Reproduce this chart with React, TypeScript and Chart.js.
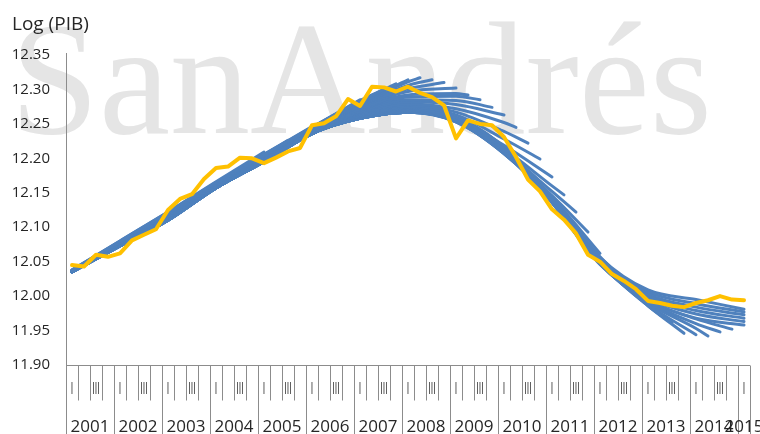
import { useEffect, useRef } from "react";
import { Chart, registerables } from "chart.js";

Chart.register(...registerables);

// Years and quarter labels of the category axis (2001Q1 .. 2015Q1)
const anios = [2001, 2002, 2003, 2004, 2005, 2006, 2007, 2008, 2009, 2010, 2011, 2012, 2013, 2014, 2015];
const trimestres = ["I", "II", "III", "IV"];

// Y axis range
const ejeYMin = 11.9;
const ejeYMax = 12.35;
const ejeYPaso = 0.05;

// Quarterly log of GDP, 2001Q1 .. 2015Q1
const logPib = [
  12.045, 12.043, 12.060, 12.057,
  12.062, 12.081, 12.089, 12.097,
  12.125, 12.141, 12.148, 12.170,
  12.186, 12.188, 12.201, 12.200,
  12.193, 12.201, 12.210, 12.215,
  12.248, 12.251, 12.261, 12.286,
  12.276, 12.304, 12.303, 12.297,
  12.304, 12.295, 12.289, 12.277,
  12.229, 12.255, 12.250, 12.248,
  12.231, 12.202, 12.169, 12.152,
  12.126, 12.111, 12.091, 12.060,
  12.050, 12.032, 12.022, 12.010,
  11.993, 11.990, 11.986, 11.984,
  11.990, 11.994, 12.000, 11.995,
  11.994,
];

// Recursive trend estimates: quarter index where each one ends
const finTendencia = [
  16, 18, 20, 22, 24, 26, 27, 28, 29, 30, 31, 32, 33, 34, 35, 36, 37, 38, 39, 40,
  41, 42, 43, 44, 45, 46, 47, 48, 49, 50, 51, 52, 53, 54, 55, 56, 56, 56, 56, 56, 56,
];

// Trend values at quarters 0, 4, 8, ... and at the final quarter of each estimate
const tendencias = [
  [12.038, 12.080, 12.122, 12.166, 12.209],
  [12.038, 12.080, 12.122, 12.165, 12.206, 12.226],
  [12.038, 12.079, 12.121, 12.164, 12.205, 12.246],
  [12.037, 12.079, 12.121, 12.164, 12.205, 12.245, 12.264],
  [12.037, 12.079, 12.120, 12.163, 12.204, 12.245, 12.285],
  [12.037, 12.078, 12.120, 12.163, 12.204, 12.244, 12.284, 12.300],
  [12.037, 12.078, 12.120, 12.162, 12.203, 12.244, 12.283, 12.308],
  [12.037, 12.078, 12.119, 12.162, 12.203, 12.243, 12.281, 12.314],
  [12.037, 12.078, 12.119, 12.161, 12.202, 12.243, 12.280, 12.311, 12.317],
  [12.037, 12.078, 12.118, 12.161, 12.202, 12.242, 12.279, 12.306, 12.314],
  [12.037, 12.077, 12.118, 12.160, 12.201, 12.241, 12.277, 12.301, 12.310],
  [12.037, 12.077, 12.118, 12.160, 12.200, 12.240, 12.275, 12.297, 12.302],
  [12.037, 12.077, 12.117, 12.159, 12.199, 12.239, 12.272, 12.292, 12.294, 12.292],
  [12.037, 12.077, 12.117, 12.159, 12.199, 12.238, 12.270, 12.289, 12.290, 12.285],
  [12.036, 12.076, 12.116, 12.159, 12.198, 12.238, 12.268, 12.285, 12.284, 12.274],
  [12.036, 12.076, 12.116, 12.158, 12.198, 12.237, 12.267, 12.282, 12.278, 12.263],
  [12.036, 12.076, 12.115, 12.158, 12.198, 12.237, 12.266, 12.279, 12.272, 12.252, 12.245],
  [12.036, 12.076, 12.115, 12.158, 12.197, 12.237, 12.265, 12.277, 12.267, 12.239, 12.222],
  [12.036, 12.075, 12.115, 12.158, 12.197, 12.236, 12.264, 12.275, 12.263, 12.228, 12.199],
  [12.036, 12.075, 12.114, 12.158, 12.197, 12.236, 12.263, 12.273, 12.259, 12.219, 12.173],
  [12.036, 12.075, 12.114, 12.157, 12.196, 12.236, 12.262, 12.272, 12.257, 12.214, 12.160, 12.147],
  [12.036, 12.075, 12.114, 12.157, 12.196, 12.236, 12.262, 12.271, 12.256, 12.211, 12.152, 12.122],
  [12.036, 12.075, 12.113, 12.157, 12.196, 12.236, 12.261, 12.270, 12.255, 12.209, 12.146, 12.093],
  [12.036, 12.074, 12.113, 12.157, 12.196, 12.236, 12.261, 12.269, 12.255, 12.208, 12.143, 12.062],
  [12.035, 12.074, 12.112, 12.157, 12.196, 12.236, 12.260, 12.269, 12.254, 12.207, 12.141, 12.057, 12.040],
  [12.035, 12.074, 12.112, 12.157, 12.195, 12.236, 12.260, 12.268, 12.254, 12.207, 12.140, 12.055, 12.022],
  [12.035, 12.074, 12.111, 12.157, 12.195, 12.236, 12.259, 12.268, 12.253, 12.207, 12.139, 12.053, 12.004],
  [12.035, 12.073, 12.111, 12.157, 12.195, 12.236, 12.259, 12.268, 12.253, 12.208, 12.138, 12.051, 11.988],
  [12.035, 12.073, 12.111, 12.157, 12.195, 12.236, 12.259, 12.267, 12.253, 12.209, 12.137, 12.049, 11.987, 11.973],
  [12.035, 12.073, 12.110, 12.157, 12.195, 12.236, 12.258, 12.267, 12.254, 12.210, 12.137, 12.048, 11.986, 11.961],
  [12.035, 12.073, 12.110, 12.157, 12.195, 12.236, 12.258, 12.267, 12.255, 12.211, 12.137, 12.048, 11.986, 11.946],
  [12.035, 12.073, 12.110, 12.157, 12.195, 12.236, 12.258, 12.267, 12.255, 12.212, 12.137, 12.048, 11.988, 11.944],
  [12.035, 12.073, 12.110, 12.157, 12.195, 12.236, 12.258, 12.267, 12.256, 12.212, 12.137, 12.047, 11.990, 11.953, 11.942],
  [12.035, 12.073, 12.110, 12.157, 12.195, 12.236, 12.258, 12.267, 12.256, 12.213, 12.136, 12.047, 11.992, 11.960, 11.948],
  [12.035, 12.073, 12.110, 12.157, 12.195, 12.236, 12.258, 12.267, 12.257, 12.213, 12.136, 12.047, 11.994, 11.967, 11.952],
  [12.035, 12.073, 12.110, 12.157, 12.195, 12.236, 12.258, 12.267, 12.257, 12.214, 12.136, 12.046, 11.994, 11.968, 11.958],
  [12.035, 12.073, 12.110, 12.157, 12.195, 12.236, 12.258, 12.267, 12.258, 12.214, 12.137, 12.048, 11.997, 11.974, 11.963],
  [12.035, 12.073, 12.110, 12.157, 12.195, 12.236, 12.258, 12.267, 12.258, 12.215, 12.138, 12.050, 12.000, 11.979, 11.968],
  [12.035, 12.073, 12.110, 12.157, 12.195, 12.236, 12.258, 12.267, 12.258, 12.215, 12.139, 12.052, 12.003, 11.984, 11.973],
  [12.035, 12.073, 12.110, 12.157, 12.195, 12.236, 12.258, 12.267, 12.259, 12.216, 12.140, 12.054, 12.006, 11.989, 11.977],
  [12.035, 12.073, 12.110, 12.157, 12.195, 12.236, 12.258, 12.267, 12.259, 12.216, 12.141, 12.056, 12.009, 11.995, 11.981],
];

const AZUL = "#4f81bd";
const AMARILLO = "#ffc000";
const TEXTO = "#262626";
const EJE = "#8c8c8c";
const FUENTE = "'Open Sans', 'Noto Sans', sans-serif";

// Quarter positions for one trend: every fourth quarter, then the last one
function puntosTendencia(fin: number, valores: number[]) {
  const xs: number[] = [];
  for (let t = 0; t <= fin; t += 4) xs.push(t);
  if (fin % 4 !== 0) xs.push(fin);
  return valores.map((v, i) => ({ x: xs[i], y: v }));
}

const marcoPlugin = {
  id: "marcoPib",
  beforeDraw(chart: any) {
    const ctx = chart.ctx as CanvasRenderingContext2D;
    ctx.save();
    ctx.fillStyle = "#ffffff";
    ctx.fillRect(0, 0, chart.width, chart.height);
    ctx.font = "160px 'Liberation Serif', 'DejaVu Serif', serif";
    ctx.fillStyle = "#e5e5e5";
    ctx.textBaseline = "alphabetic";
    ctx.textAlign = "left";
    ctx.fillText("SanAndrés", 10, 133);
    ctx.restore();
  },
  afterDraw(chart: any) {
    const ctx = chart.ctx as CanvasRenderingContext2D;
    const area = chart.chartArea;
    const xs = chart.scales.x;
    const n = logPib.length;
    ctx.save();

    // title of the value axis
    ctx.fillStyle = TEXTO;
    ctx.font = `19px ${FUENTE}`;
    ctx.textAlign = "left";
    ctx.textBaseline = "alphabetic";
    ctx.fillText("Log (PIB)", 12, 30);

    // axis lines, quarter ticks and year separators
    ctx.strokeStyle = EJE;
    ctx.lineWidth = 1;
    ctx.beginPath();
    const x0 = Math.round(area.left) + 0.5;
    const yb = Math.round(area.bottom) + 0.5;
    ctx.moveTo(x0, area.top - 2);
    ctx.lineTo(x0, yb);
    ctx.moveTo(area.left, yb);
    ctx.lineTo(area.right, yb);
    for (let k = 0; k <= n; k++) {
      const x = Math.round(xs.getPixelForValue(k - 0.5)) + 0.5;
      const limite = k % 4 === 0 || k === n;
      ctx.moveTo(x, yb);
      ctx.lineTo(x, limite ? chart.height : yb + 35);
    }
    ctx.stroke();

    // quarter labels (every second one)
    ctx.fillStyle = TEXTO;
    ctx.font = `16px ${FUENTE}`;
    ctx.textAlign = "center";
    ctx.textBaseline = "middle";
    for (let i = 0; i < n; i++) {
      if ((i % 4) % 2 !== 0) continue;
      const cx = xs.getPixelForValue(i);
      ctx.save();
      ctx.translate(cx, 389);
      ctx.scale(0.55, 1);
      ctx.fillText(trimestres[i % 4], 0, 0);
      ctx.restore();
    }

    // year labels
    ctx.font = `17px ${FUENTE}`;
    anios.forEach((anio, a) => {
      const primero = a * 4;
      const ultimo = Math.min(primero + 3, n - 1);
      const cx = (xs.getPixelForValue(primero - 0.5) + xs.getPixelForValue(ultimo + 0.5)) / 2;
      ctx.fillText(String(anio), cx, 427);
    });
    ctx.restore();
  },
};

export default function App() {
  const canvasRef = useRef<HTMLCanvasElement | null>(null);

  useEffect(() => {
    document.body.style.margin = "0";
    let chart: Chart | null = null;
    let cancelado = false;

    const crear = () => {
      if (cancelado || !canvasRef.current) return;
      const datasets: any[] = [
        {
          label: "Log (PIB)",
          data: logPib.map((v, i) => ({ x: i, y: v })),
          borderColor: AMARILLO,
          borderWidth: 4,
          tension: 0,
          pointRadius: 0,
          borderJoinStyle: "round",
          borderCapStyle: "round",
          order: 0,
        },
        ...tendencias.map((valores, j) => ({
          label: `Tendencia ${j + 1}`,
          data: puntosTendencia(finTendencia[j], valores),
          borderColor: AZUL,
          borderWidth: 3,
          pointRadius: 0,
          cubicInterpolationMode: "monotone",
          borderCapStyle: "round",
          order: 1,
        })),
      ];

      chart = new Chart(canvasRef.current, {
        type: "line",
        data: { datasets },
        options: {
          animation: false,
          responsive: false,
          devicePixelRatio: 1,
          parsing: false,
          layout: { padding: { left: 0, right: 10, top: 55, bottom: 69 } },
          plugins: {
            legend: { display: false },
            tooltip: { enabled: false },
          },
          scales: {
            x: {
              type: "linear",
              display: false,
              min: -0.5,
              max: logPib.length - 0.5,
            },
            y: {
              min: ejeYMin,
              max: ejeYMax,
              afterFit: (s: any) => {
                s.width = 66;
              },
              grid: { display: false, drawTicks: false },
              border: { display: false },
              ticks: {
                stepSize: ejeYPaso,
                padding: 16,
                color: TEXTO,
                font: { family: FUENTE, size: 15 },
                callback: (v: any) => Number(v).toFixed(2),
              },
            },
          },
        },
        plugins: [marcoPlugin],
      });
    };

    Promise.all([
      document.fonts.load(`16px 'Open Sans'`),
      document.fonts.load(`160px 'Liberation Serif'`),
    ])
      .catch(() => null)
      .then(crear);

    return () => {
      cancelado = true;
      if (chart) chart.destroy();
    };
  }, []);

  return (
    <canvas
      ref={canvasRef}
      width={760}
      height={434}
      style={{ display: "block", width: 760, height: 434 }}
    />
  );
}
